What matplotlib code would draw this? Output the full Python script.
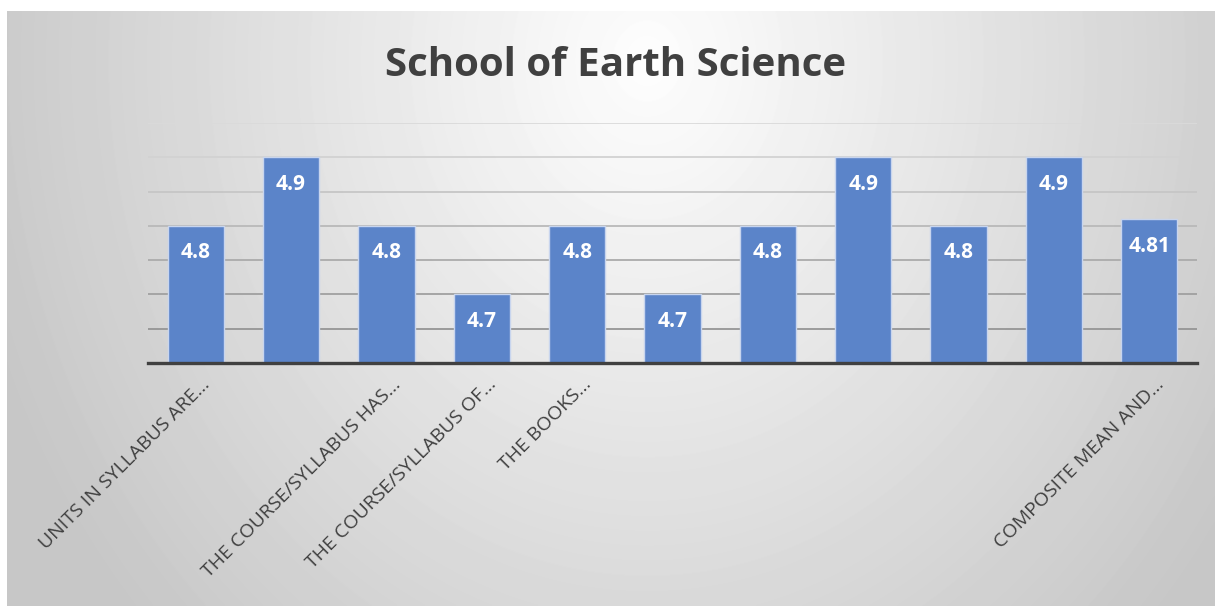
import numpy as np
import matplotlib
matplotlib.use("Agg")
from matplotlib import pyplot as plt
import matplotlib.transforms as mtransforms

# Chart data
categories = [
    "UNITS IN SYLLABUS ARE…", "", "THE COURSE/SYLLABUS HAS…",
    "THE COURSE/SYLLABUS OF…", "THE BOOKS…", "", "", "", "", "",
    "COMPOSITE MEAN AND…",
]
scores = [4.8, 4.9, 4.8, 4.7, 4.8, 4.7, 4.8, 4.9, 4.8, 4.9, 4.81]
value_labels = ["4.8", "4.9", "4.8", "4.7", "4.8", "4.7", "4.8", "4.9", "4.8", "4.9", "4.81"]
title = "School of Earth Science"

W, H = 1215, 606
fig = plt.figure(figsize=(W / 100, H / 100), dpi=100)
fig.patch.set_facecolor("white")

# Step 1: gray radial gradient behind the chart (Excel style)
bg = fig.add_axes([7 / W, 0, 1 - 7 / W, 1 - 11 / H])
bw, bh = W - 7, H - 11
yy, xx = np.mgrid[0:bh, 0:bw]
r = np.hypot(xx - 640, (yy - 50) * 0.85)
shade = np.clip(0.995 - 0.00031 * r, 0.78, 1.0)
bg.imshow(shade, cmap="gray", vmin=0, vmax=1, aspect="auto", interpolation="bilinear")
bg.set_axis_off()

# Step 2: the bar chart itself
ax = fig.add_axes([148 / W, (H - 363) / H, 1049 / W, 240 / H])
ax.set_facecolor("none")
x = np.arange(len(scores))
bars = ax.bar(x, scores, width=0.59, bottom=0, color="#5b84c9",
              edgecolor="#c8d5ee", linewidth=1.0, zorder=3)
ax.set_xlim(-0.5, len(scores) - 0.5)
ax.set_ylim(4.6, 4.95)

# gridlines, darker towards the bottom like the reference
grid_vals = np.arange(4.65, 4.96, 0.05)
grid_cols = ["#959595", "#a0a0a0", "#ababab", "#b9b9b9", "#c6c6c6", "#d2d2d2", "#dadada"]
for gv, gc in zip(grid_vals, grid_cols):
    ax.axhline(gv, color=gc, linewidth=1.3, zorder=1)

for s in ["top", "right", "left"]:
    ax.spines[s].set_visible(False)
ax.spines["bottom"].set_color("#404040")
ax.spines["bottom"].set_linewidth(2.4)
ax.spines["bottom"].set_zorder(4)
ax.set_yticks([])
ax.set_xticks([])

# value labels inside the bars
for rect, lab in zip(bars, value_labels):
    ax.annotate(lab, (rect.get_x() + rect.get_width() / 2, rect.get_height()),
                xytext=(0, -27), textcoords="offset pixels", ha="center", va="center",
                color="white", fontsize=15, fontweight="bold", family="Open Sans", zorder=5)

# rotated category labels (only some are shown in the original)
trans = mtransforms.blended_transform_factory(ax.transData, ax.transAxes)
for i, lab in enumerate(categories):
    if lab:
        ax.text(x[i] + 0.16, -0.092, lab, transform=trans, rotation=45,
                rotation_mode="anchor", ha="right", va="baseline",
                fontsize=14, color="#404040", family="Open Sans")

fig.text(616 / W, 1 - 65 / H, title, ha="center", va="center",
         fontsize=29, fontweight="bold", color="#404040", family="Open Sans")

fig.savefig("out.png", dpi=100)
